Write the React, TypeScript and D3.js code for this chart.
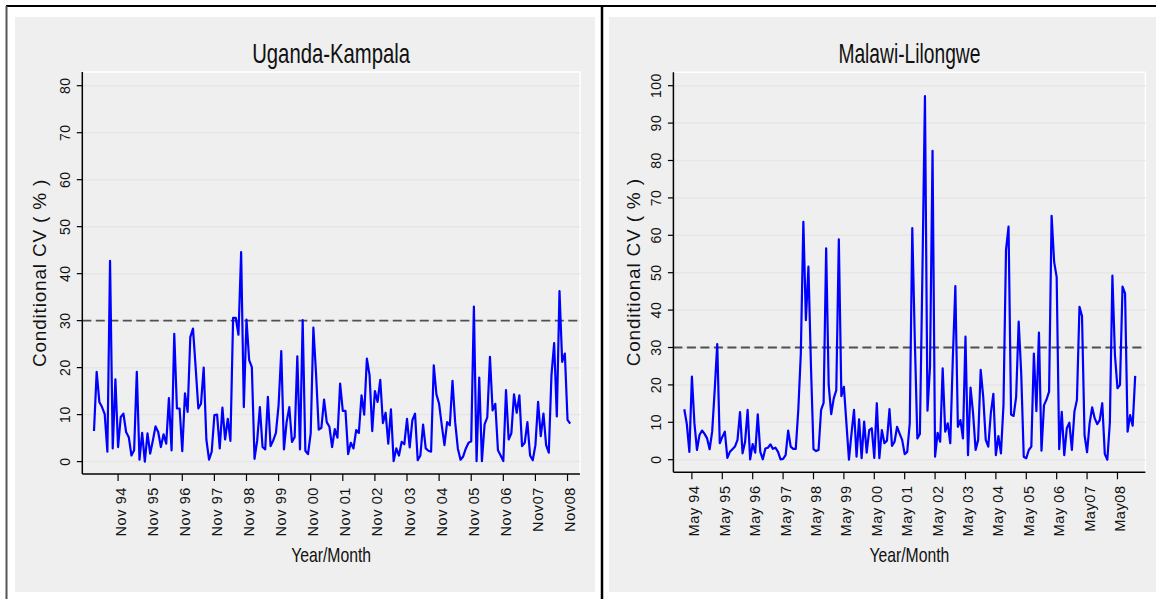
import React from "react";
import * as d3 from "d3";

// Monthly conditional CV (%), Feb 1994 – Dec 2008
const ugandaKampala: number[] = [
  6.5, 19.1, 12.7, 11.6, 10.1, 2.1, 42.7, 2.8, 17.5, 3.1, 9.5, 10.2,
  6.3, 5.2, 1.3, 2.4, 19.1, 0.4, 6.1, 0.0, 6.0, 1.7, 4.5, 7.5,
  6.3, 3.1, 5.8, 3.8, 13.5, 2.4, 27.2, 11.3, 11.3, 2.2, 14.5, 10.6,
  26.5, 28.3, 20.0, 11.3, 12.3, 20.0, 4.7, 0.4, 2.1, 9.9, 10.0, 2.8,
  11.5, 4.7, 9.1, 4.4, 30.6, 30.6, 27.0, 44.6, 11.6, 30.2, 21.6, 20.1,
  0.6, 4.5, 11.6, 3.1, 2.6, 13.8, 3.3, 4.5, 6.1, 12.0, 23.5, 2.6,
  8.4, 11.6, 4.2, 5.2, 22.4, 2.6, 30.1, 2.3, 1.6, 6.0, 28.5, 18.7,
  6.8, 7.2, 13.2, 8.4, 7.4, 3.1, 6.9, 5.1, 16.6, 10.8, 10.8, 1.6,
  4.0, 2.8, 6.7, 6.1, 14.1, 10.0, 21.9, 18.4, 6.5, 15.0, 12.7, 17.4,
  8.2, 10.4, 3.8, 11.1, 0.1, 2.8, 1.3, 4.2, 3.7, 9.1, 3.0, 8.8,
  10.2, 0.3, 1.3, 7.9, 2.8, 2.3, 2.1, 20.5, 14.3, 12.3, 7.7, 3.5,
  8.4, 7.7, 17.2, 8.4, 2.8, 0.4, 1.1, 2.8, 4.0, 4.3, 33.0, 0.1,
  17.9, 0.1, 7.9, 9.4, 22.3, 10.9, 12.3, 2.4, 1.3, 0.1, 15.2, 4.7,
  6.0, 14.3, 10.4, 14.1, 3.3, 4.0, 8.4, 1.3, 0.3, 3.5, 12.7, 5.4,
  10.2, 3.5, 1.9, 18.4, 25.2, 9.6, 36.3, 21.2, 23.0, 8.9, 8.1,
];

const malawiLilongwe: number[] = [
  13.5, 9.5, 2.1, 22.2, 9.7, 2.6, 6.6, 7.8, 6.9, 5.7, 2.8, 7.5,
  18.6, 30.9, 4.4, 6.1, 7.5, 0.5, 2.1, 2.8, 3.5, 5.3, 12.7, 1.7,
  4.8, 13.3, 0.1, 4.2, 1.9, 12.1, 2.1, 0.1, 3.0, 3.2, 4.1, 2.9,
  3.2, 2.1, 0.1, 0.2, 1.2, 7.8, 3.5, 2.9, 2.9, 13.3, 28.4, 63.6,
  37.3, 51.6, 25.0, 2.8, 2.3, 2.6, 13.3, 15.2, 56.5, 20.0, 12.2, 16.4,
  18.6, 58.9, 17.0, 19.5, 9.7, 0.0, 7.0, 13.3, 0.8, 10.8, 0.4, 10.2,
  1.9, 7.9, 8.4, 0.5, 15.1, 0.4, 7.9, 4.4, 5.1, 13.5, 3.7, 4.8,
  8.8, 7.0, 5.3, 1.5, 2.1, 9.7, 61.9, 32.0, 5.7, 6.9, 50.0, 97.2,
  13.1, 24.9, 82.6, 0.8, 7.2, 4.8, 24.4, 7.5, 9.7, 4.4, 27.0, 46.4,
  8.8, 10.6, 5.7, 32.9, 1.2, 19.3, 12.4, 2.6, 5.3, 24.0, 16.8, 5.3,
  3.5, 12.4, 17.6, 1.2, 6.3, 1.7, 14.6, 56.1, 62.3, 12.1, 11.7, 16.8,
  36.9, 23.1, 0.8, 0.4, 2.6, 3.5, 28.4, 13.0, 34.0, 2.4, 14.6, 16.1,
  18.2, 65.2, 52.9, 48.8, 2.8, 12.8, 1.2, 8.4, 9.9, 2.6, 12.8, 16.0,
  40.9, 38.4, 6.6, 2.0, 9.7, 14.0, 11.1, 9.5, 10.6, 15.1, 1.5, 0.0,
  10.0, 49.2, 28.0, 19.1, 20.0, 46.3, 44.5, 7.5, 11.9, 9.1, 22.4,
];

// Axis tick labels and the month index (from Feb 1994) of each tick
const ugandaTickLabels: string[] = [
  "Nov 94", "Nov 95", "Nov 96", "Nov 97", "Nov 98", "Nov 99", "Nov 00", "Nov 01",
  "Nov 02", "Nov 03", "Nov 04", "Nov 05", "Nov 06", "Nov07", "Nov08",
];
const ugandaTickMonths: number[] = [9, 21, 33, 45, 57, 69, 81, 93, 105, 117, 129, 141, 153, 165, 177];

const malawiTickLabels: string[] = [
  "May 94", "May 95", "May 96", "May 97", "May 98", "May 99", "May 00", "May 01",
  "May 02", "May 03", "May 04", "May 05", "May 06", "May07", "May08",
];
const malawiTickMonths: number[] = [3, 15, 27, 39, 51, 63, 75, 87, 99, 111, 123, 135, 147, 159, 171];

const ugandaYTicks: number[] = [0, 10, 20, 30, 40, 50, 60, 70, 80];
const malawiYTicks: number[] = [0, 10, 20, 30, 40, 50, 60, 70, 80, 90, 100];

const threshold = 30;

const SANS = "'Liberation Sans', Arial, sans-serif";

type PanelProps = {
  title: string;
  titleWidth: number;
  values: number[];
  tickLabels: string[];
  tickMonths: number[];
  yTicks: number[];
  bg: { x0: number; x1: number };
  plot: { left: number; right: number; top: number; bottom: number };
  xRange: [number, number];
  yRange: [number, number];
  yLabelBaseline: number;
  yTitleBaseline: number;
};

function Panel(p: PanelProps) {
  const n = p.values.length;
  const x = d3.scaleLinear().domain([0, n - 1]).range(p.xRange);
  const yMax = p.yTicks[p.yTicks.length - 1];
  const y = d3.scaleLinear().domain([0, yMax]).range(p.yRange);
  const line = d3
    .line<number>()
    .x((_, i) => x(i))
    .y((d) => y(d));
  const { left, right, top, bottom } = p.plot;
  const cx = (left + right) / 2;
  const cy = (top + bottom) / 2;

  return (
    <g>
      <rect x={p.bg.x0} y={17} width={p.bg.x1 - p.bg.x0} height={575} fill="#efefef" />
      {/* plot region outline */}
      <rect x={left} y={top} width={right - left} height={bottom - top} fill="#efefef" stroke="#ffffff" strokeWidth={1.5} />
      {/* grid */}
      {p.yTicks.map((t) => (
        <line key={"g" + t} x1={left} x2={right} y1={y(t)} y2={y(t)} stroke="#e6e6e6" strokeWidth={1.5} />
      ))}
      {/* reference line */}
      <line x1={left} x2={right} y1={y(threshold)} y2={y(threshold)} stroke="#505050" strokeWidth={1.8} strokeDasharray="9 4.5" />
      {/* series */}
      <path d={line(p.values) || ""} fill="none" stroke="#0000ff" strokeWidth={2.2} strokeLinejoin="round" />
      {/* axes */}
      <line x1={left} x2={left} y1={top} y2={bottom} stroke="#000" strokeWidth={1.5} />
      <line x1={left} x2={right} y1={bottom} y2={bottom} stroke="#000" strokeWidth={1.5} />
      {p.yTicks.map((t) => (
        <g key={"yt" + t}>
          <line x1={left - 5.5} x2={left} y1={y(t)} y2={y(t)} stroke="#000" strokeWidth={1.2} />
          <text
            transform={`translate(${p.yLabelBaseline},${y(t)}) rotate(-90)`}
            textAnchor="middle"
            fontFamily={SANS}
            fontSize={14}
            letterSpacing={0.5}
            fill="#111"
          >
            {t}
          </text>
        </g>
      ))}
      {p.tickMonths.map((m, i) => (
        <g key={"xt" + m}>
          <line x1={x(m)} x2={x(m)} y1={bottom} y2={bottom + 7} stroke="#000" strokeWidth={1.2} />
          <text
            transform={`translate(${x(m) + 7.5},${bottom + 13}) rotate(-90)`}
            textAnchor="end"
            fontFamily={SANS}
            fontSize={14.5}
            letterSpacing={0.6}
            fill="#111"
          >
            {p.tickLabels[i]}
          </text>
        </g>
      ))}
      {/* titles */}
      <text
        x={cx}
        y={63}
        textAnchor="middle"
        fontFamily={SANS}
        fontSize={28}
        textLength={p.titleWidth}
        lengthAdjust="spacingAndGlyphs"
        fill="#111"
      >
        {p.title}
      </text>
      <text
        x={cx}
        y={562}
        textAnchor="middle"
        fontFamily={SANS}
        fontSize={21}
        textLength={80}
        lengthAdjust="spacingAndGlyphs"
        fill="#111"
      >
        Year/Month
      </text>
      <text
        transform={`translate(${p.yTitleBaseline},${cy}) rotate(-90)`}
        textAnchor="middle"
        fontFamily={SANS}
        fontSize={19}
        letterSpacing={0.8}
        fill="#111"
      >
        Conditional CV ( % )
      </text>
    </g>
  );
}

export default function App() {
  return (
    <svg
      width={1156}
      height={599}
      style={{ position: "absolute", left: 0, top: 0, background: "#fff" }}
    >
      <rect x={0} y={0} width={1156} height={599} fill="#fff" />
      <Panel
        title="Uganda-Kampala"
        titleWidth={158}
        values={ugandaKampala}
        tickLabels={ugandaTickLabels}
        tickMonths={ugandaTickMonths}
        yTicks={ugandaYTicks}
        bg={{ x0: 15, x1: 595 }}
        plot={{ left: 82.3, right: 580, top: 72, bottom: 474 }}
        xRange={[94, 570.2]}
        yRange={[461.6, 85.7]}
        yLabelBaseline={70}
        yTitleBaseline={46}
      />
      <Panel
        title="Malawi-Lilongwe"
        titleWidth={142}
        values={malawiLilongwe}
        tickLabels={malawiTickLabels}
        tickMonths={malawiTickMonths}
        yTicks={malawiYTicks}
        bg={{ x0: 609, x1: 1156 }}
        plot={{ left: 673.4, right: 1145.4, top: 72.3, bottom: 472.3 }}
        xRange={[684.3, 1135.2]}
        yRange={[459.7, 85.7]}
        yLabelBaseline={661}
        yTitleBaseline={640}
      />
      {/* figure frame */}
      <line x1={6} x2={1156} y1={6} y2={6} stroke="#000" strokeWidth={2} />
      <line x1={6.5} x2={6.5} y1={6} y2={599} stroke="#555" strokeWidth={2} />
      <line x1={602} x2={602} y1={6} y2={599} stroke="#000" strokeWidth={2.5} />
    </svg>
  );
}
